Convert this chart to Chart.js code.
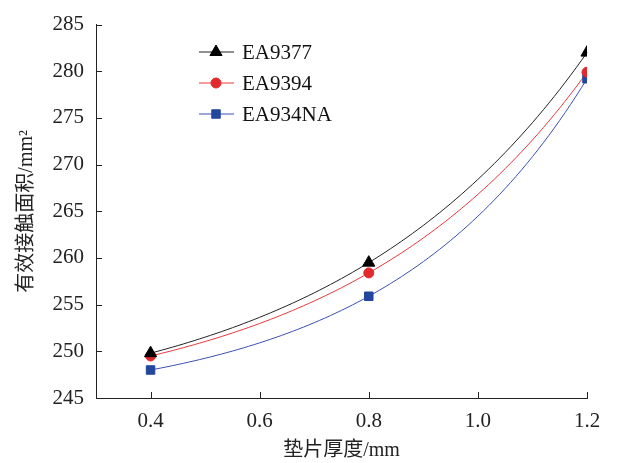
<!DOCTYPE html>
<html>
<head>
<meta charset="utf-8">
<script src="https://cdn.jsdelivr.net/npm/chart.js@4"></script>
<style>
  html, body { margin: 0; padding: 0; background: #fff; }
  #wrap { width: 618px; height: 463px; }
</style>
</head>
<body>
<div id="wrap"><canvas id="myChart" width="618" height="463"></canvas></div>
<script>
// thickness values (mm) and effective contact areas (mm^2)
const thickness = [0.4, 0.8, 1.2];
const ea9377 = [249.8, 259.5, 282.0];
const ea9394 = [249.5, 258.4, 279.9];
const ea934na = [248.0, 255.9, 279.2];
const xTickValues = [0.4, 0.6, 0.8, 1.0, 1.2];
const yTickValues = [245, 250, 255, 260, 265, 270, 275, 280, 285];

const FONT = '"Liberation Serif", "Times New Roman", "Noto Sans CJK SC", serif';

function pts(ys) {
    return thickness.map((x, i) => ({x: x, y: ys[i]}));
}

// smooth exponential-type curve through the 3 equally spaced points (like the fitted curve in the figure)
const fitCurves = {
    id: 'fitCurves',
    beforeDatasetsDraw(chart) {
        const ctx = chart.ctx;
        const xs = chart.scales.x, ys = chart.scales.y;
        ctx.save();
        chart.data.datasets.forEach(ds => {
            const p = ds.data;
            const h = p[1].x - p[0].x;
            const d1 = p[1].y - p[0].y, d2 = p[2].y - p[1].y;
            const r = d2 / d1;
            const f = x => {
                const t = (x - p[0].x) / h;
                if (!(r > 0) || Math.abs(r - 1) < 1e-6) return p[0].y + d1 * t;
                const b = d1 / (r - 1);
                return p[0].y - b + b * Math.pow(r, t);
            };
            ctx.strokeStyle = ds.borderColor;
            ctx.lineWidth = 1;
            ctx.beginPath();
            const n = 80;
            for (let i = 0; i <= n; i++) {
                const x = p[0].x + (p[2].x - p[0].x) * i / n;
                const px = xs.getPixelForValue(x), py = ys.getPixelForValue(f(x));
                if (i === 0) ctx.moveTo(px, py); else ctx.lineTo(px, py);
            }
            ctx.stroke();
        });
        ctx.restore();
    }
};

// inward tick marks
const axisTicks = {
    id: 'axisTicks',
    afterDraw(chart) {
        const ctx = chart.ctx;
        const xs = chart.scales.x, ys = chart.scales.y;
        ctx.save();
        ctx.strokeStyle = '#222';
        ctx.lineWidth = 1;
        ctx.beginPath();
        xs.ticks.forEach(t => {
            const px = Math.round(xs.getPixelForValue(t.value)) + 0.5;
            ctx.moveTo(px, ys.bottom);
            ctx.lineTo(px, ys.bottom - 6);
        });
        ys.ticks.forEach(t => {
            const py = Math.round(ys.getPixelForValue(t.value)) + 0.5;
            ctx.moveTo(xs.left, py);
            ctx.lineTo(xs.left + 6, py);
        });
        ctx.stroke();
        ctx.restore();
    }
};

// legend with line + marker, drawn inside plot area
const lineLegend = {
    id: 'lineLegend',
    afterDraw(chart) {
        const ctx = chart.ctx;
        const x0 = 199, y0 = 52, gap = 31;
        ctx.save();
        chart.data.datasets.forEach((ds, i) => {
            const y = y0 + i * gap;
            ctx.strokeStyle = ds.borderColor;
            ctx.lineWidth = 1;
            ctx.beginPath();
            ctx.moveTo(x0, y);
            ctx.lineTo(x0 + 35, y);
            ctx.stroke();
            ctx.fillStyle = ds.pointBackgroundColor;
            ctx.strokeStyle = ds.pointBorderColor;
            Chart.helpers.drawPoint(ctx, {
                pointStyle: ds.pointStyle,
                radius: ds.pointRadius,
                borderWidth: 1
            }, x0 + 17, y);
            ctx.fillStyle = '#111';
            ctx.font = '21px ' + FONT;
            ctx.textBaseline = 'middle';
            ctx.fillText(ds.label, x0 + 43, y + 1);
        });
        ctx.restore();
    }
};

const ctx = document.getElementById('myChart');
const myChart = new Chart(ctx, {
    type: 'line',
    data: {
        datasets: [{
            label: 'EA9377',
            data: pts(ea9377),
            borderColor: '#222222',
            showLine: false,
            pointStyle: 'triangle',
            pointRadius: 7,
            pointBackgroundColor: '#000000',
            pointBorderColor: '#000000'
        },
        {
            label: 'EA9394',
            data: pts(ea9394),
            borderColor: '#e8383c',
            showLine: false,
            pointStyle: 'circle',
            pointRadius: 5,
            pointBackgroundColor: '#e02a2e',
            pointBorderColor: '#e02a2e'
        },
        {
            label: 'EA934NA',
            data: pts(ea934na),
            borderColor: '#3b4fb0',
            showLine: false,
            pointStyle: 'rect',
            pointRadius: 6,
            pointBackgroundColor: '#23479d',
            pointBorderColor: '#23479d'
        }]
    },
    options: {
        responsive: false,
        animation: false,
        layout: { padding: { top: 18, right: 31, left: 0, bottom: 0 } },
        scales: {
            x: {
                type: 'linear',
                min: 0.3,
                max: 1.2,
                afterBuildTicks: s => { s.ticks = xTickValues.map(v => ({value: v})); },
                afterFit: s => { s.height = 65; },
                grid: { display: false, drawTicks: false },
                border: { display: true, color: '#222', width: 1 },
                ticks: {
                    color: '#222',
                    padding: 11,
                    font: { family: FONT, size: 21 },
                    callback: v => v.toFixed(1)
                },
                title: {
                    display: true,
                    text: '垫片厚度/mm',
                    color: '#222',
                    font: { family: FONT, size: 20 },
                    padding: { top: 0, bottom: 0 }
                }
            },
            y: {
                min: 245,
                max: 285,
                afterBuildTicks: s => { s.ticks = yTickValues.map(v => ({value: v})); },
                afterFit: s => { s.width = 96; },
                grid: { display: false, drawTicks: false },
                border: { display: true, color: '#222', width: 1 },
                ticks: {
                    color: '#222',
                    padding: 12,
                    font: { family: FONT, size: 21 },
                    callback: v => String(v)
                },
                title: {
                    display: true,
                    text: '有效接触面积/mm²',
                    color: '#222',
                    font: { family: FONT, size: 20 },
                    padding: { top: 15, bottom: 0 }
                }
            }
        },
        plugins: {
            legend: { display: false },
            tooltip: { enabled: false }
        }
    },
    plugins: [fitCurves, axisTicks, lineLegend]
});
</script>
</body>
</html>
